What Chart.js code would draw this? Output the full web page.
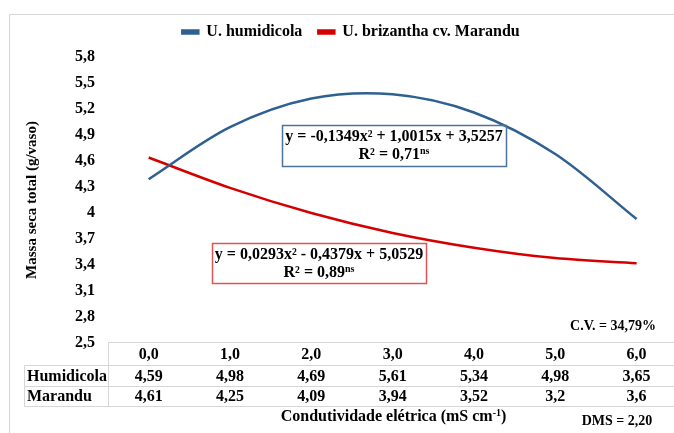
<!DOCTYPE html>
<html>
<head>
<meta charset="utf-8">
<script src="https://cdn.jsdelivr.net/npm/chart.js@4.4.1/dist/chart.umd.min.js"></script>
<style>
  html, body { margin: 0; padding: 0; background: #fff; }
</style>
</head>
<body>
<canvas id="chart" width="674" height="433"></canvas>
<script>
// valores
const categories = ['0,0', '1,0', '2,0', '3,0', '4,0', '5,0', '6,0'];
const humidicolaTable = ['4,59', '4,98', '4,69', '5,61', '5,34', '4,98', '3,65'];
const marandutable = ['4,61', '4,25', '4,09', '3,94', '3,52', '3,2', '3,6'];
const humidicolaCurve = [4.39, 4.99, 5.32, 5.37, 5.16, 4.68, 3.93];
const marandubCurve = [4.64, 4.29, 4.00, 3.77, 3.60, 3.48, 3.42];
const yTicks = [2.5, 2.8, 3.1, 3.4, 3.7, 4.0, 4.3, 4.6, 4.9, 5.2, 5.5, 5.8];

const BLUE = '#2e6090';
const RED = '#d40000';
const GRID = '#d6d6d6';
const SERIF = '"Liberation Serif", "Times New Roman", serif';
const PAD_LEFT = 28;

Chart.defaults.font.family = SERIF;
Chart.defaults.font.weight = 'bold';
Chart.defaults.color = '#000';

const toPoints = arr => arr.map((v, i) => ({x: i + 1, y: v}));
const fmtTick = v => {
    const r = Math.round(v * 10) / 10;
    return Number.isInteger(r) ? String(r) : r.toFixed(1).replace('.', ',');
};

// desenha texto com partes (sobrescrito etc.), centrado em cx
function richText(ctx, parts, cx, cy, align = 'center') {
    let total = 0;
    parts.forEach(p => {
        ctx.font = `bold ${p.size}px ${SERIF}`;
        p.w = ctx.measureText(p.t).width;
        total += p.w;
    });
    let x = align === 'center' ? cx - total / 2 : align === 'right' ? cx - total : cx;
    ctx.textAlign = 'left';
    ctx.textBaseline = 'middle';
    parts.forEach(p => {
        ctx.font = `bold ${p.size}px ${SERIF}`;
        ctx.fillText(p.t, x, cy + (p.dy || 0));
        x += p.w;
    });
}

// mais espaço entre a legenda e a área do gráfico
const legendGap = {
    id: 'legendGap',
    beforeLayout(chart) {
        const lg = chart.legend;
        if (lg && !lg._gapPatched) {
            const fit = lg.fit;
            lg.fit = function () { fit.call(this); this.height += 7; };
            lg._gapPatched = true;
        }
    }
};

const extras = {
    id: 'extras',
    beforeDraw(chart) {
        const ctx = chart.ctx;
        ctx.save();
        ctx.strokeStyle = GRID;
        ctx.lineWidth = 1;
        ctx.beginPath();
        ctx.moveTo(9.5, 433);
        ctx.lineTo(9.5, 14.5);
        ctx.lineTo(674, 14.5);
        ctx.stroke();
        ctx.restore();
    },
    afterDraw(chart) {
        const ctx = chart.ctx;
        const xs = chart.scales.x;
        const area = chart.chartArea;
        const top = Math.round(area.bottom) - 0.5;
        const left = Math.round(area.left) + 0.5;
        const rows = [top, top + 23, top + 44, top + 64];

        ctx.save();
        ctx.strokeStyle = GRID;
        ctx.lineWidth = 1;
        ctx.beginPath();
        ctx.moveTo(left, rows[0]); ctx.lineTo(674, rows[0]);
        [1, 2, 3].forEach(r => { ctx.moveTo(24.5, rows[r]); ctx.lineTo(674, rows[r]); });
        ctx.moveTo(left, rows[0]); ctx.lineTo(left, rows[3]);
        ctx.moveTo(24.5, rows[1]); ctx.lineTo(24.5, rows[3]);
        ctx.stroke();

        ctx.fillStyle = '#000';
        ctx.font = `bold 16px ${SERIF}`;
        ctx.textBaseline = 'middle';
        ctx.textAlign = 'center';
        categories.forEach((c, i) => {
            const px = xs.getPixelForValue(i + 1);
            ctx.fillText(c, px, rows[0] + 12);
            ctx.fillText(humidicolaTable[i], px, rows[1] + 11);
            ctx.fillText(marandutable[i], px, rows[2] + 10);
        });
        ctx.textAlign = 'left';
        ctx.fillText('Humidicola', 27, rows[1] + 11);
        ctx.fillText('Marandu', 27, rows[2] + 10);

        const midX = (area.left + area.right + 5) / 2;
        richText(ctx, [
            {t: 'Condutividade elétrica (mS cm', size: 16},
            {t: '-1', size: 10, dy: -4},
            {t: ')', size: 16}
        ], midX, 417);
        richText(ctx, [{t: 'DMS = 2,20', size: 14}], 617, 421);
        richText(ctx, [{t: 'C.V. = 34,79%', size: 14}], 613, 326);

        // caixas das equações
        ctx.lineWidth = 1.5;
        ctx.strokeStyle = '#4f719a';
        ctx.strokeRect(282.5, 125.5, 224, 41);
        ctx.fillStyle = '#000';
        richText(ctx, [{t: 'y = -0,1349x² + 1,0015x + 3,5257', size: 16}], 394, 137);
        richText(ctx, [{t: 'R² = 0,71', size: 16}, {t: 'ns', size: 10, dy: -4}], 394, 155);

        ctx.strokeStyle = '#dd5555';
        ctx.strokeRect(212.5, 243.5, 214, 40);
        richText(ctx, [{t: 'y = 0,0293x² - 0,4379x + 5,0529', size: 16}], 319, 255);
        richText(ctx, [{t: 'R² = 0,89', size: 16}, {t: 'ns', size: 10, dy: -4}], 319, 273);
        ctx.restore();
    }
};

const chart = new Chart(document.getElementById('chart'), {
    type: 'line',
    data: {
        datasets: [{
            label: 'U. humidicola',
            data: toPoints(humidicolaCurve),
            borderColor: BLUE,
            backgroundColor: BLUE,
            borderWidth: 2.5,
            tension: 0.33,
            pointRadius: 0
        }, {
            label: 'U. brizantha cv. Marandu',
            data: toPoints(marandubCurve),
            borderColor: RED,
            backgroundColor: RED,
            borderWidth: 2.5,
            tension: 0.33,
            pointRadius: 0
        }]
    },
    options: {
        responsive: false,
        animation: false,
        devicePixelRatio: 1,
        layout: {padding: {top: 8, left: PAD_LEFT, right: 0, bottom: 90}},
        scales: {
            x: {type: 'linear', min: 0.5, max: 7.46, display: false},
            y: {
                min: 2.5,
                max: 5.8,
                afterBuildTicks: s => { s.ticks = yTicks.map(v => ({value: v})); },
                afterFit: s => { s.width = 108 - PAD_LEFT; },
                grid: {display: false, drawTicks: false},
                border: {display: false},
                ticks: {padding: 13, font: {size: 16}, callback: v => fmtTick(v)},
                title: {
                    display: true,
                    text: 'Massa seca total (g/vaso)',
                    font: {size: 15, weight: 'bold'},
                    padding: {top: 23 - PAD_LEFT, bottom: 0}
                }
            }
        },
        plugins: {
            legend: {
                position: 'top',
                labels: {boxWidth: 16, boxHeight: 3, padding: 16, font: {size: 16}}
            },
            tooltip: {enabled: false}
        }
    },
    plugins: [legendGap, extras]
});
</script>
</body>
</html>
